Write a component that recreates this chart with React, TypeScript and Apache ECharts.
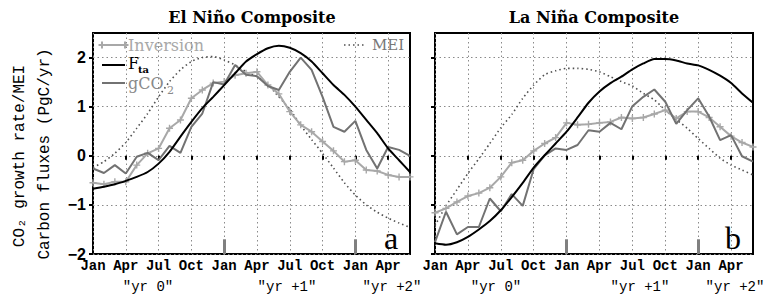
import React, { useEffect, useRef } from "react";
import * as echarts from "echarts";

// 30 monthly categories: Jan "yr 0" .. Jun "yr +2"
const categories = [
  "Jan", "Feb", "Mar", "Apr", "May", "Jun", "Jul", "Aug", "Sep", "Oct", "Nov", "Dec",
  "Jan", "Feb", "Mar", "Apr", "May", "Jun", "Jul", "Aug", "Sep", "Oct", "Nov", "Dec",
  "Jan", "Feb", "Mar", "Apr", "May", "Jun",
];
const yTicks = [-2, -1, 0, 1, 2];
const yearMarkIdx = [12, 24];
const yearLabels = ["\u2033yr 0\u2033", "\u2033yr +1\u2033", "\u2033yr +2\u2033"];

// El Niño composite
const elInversion = [-0.55, -0.58, -0.53, -0.53, -0.19, 0.05, 0.15, 0.56, 0.73, 1.17, 1.34, 1.48, 1.51, 1.64, 1.68, 1.71, 1.44, 1.26, 0.9, 0.63, 0.49, 0.29, 0.1, -0.12, -0.09, -0.29, -0.31, -0.39, -0.43, -0.43];
const elFta = [-0.67, -0.63, -0.58, -0.51, -0.43, -0.33, -0.16, 0.08, 0.39, 0.69, 0.97, 1.2, 1.44, 1.68, 1.92, 2.07, 2.19, 2.24, 2.2, 2.09, 1.92, 1.68, 1.44, 1.24, 1.0, 0.73, 0.46, 0.15, -0.09, -0.33];
const elGco2 = [-0.26, -0.35, -0.19, -0.36, -0.02, 0.06, -0.09, 0.2, 0.06, 0.59, 0.86, 1.5, 1.45, 1.85, 1.65, 1.62, 1.42, 1.34, 1.71, 2.0, 1.75, 1.2, 0.59, 0.49, 0.71, 0.12, -0.26, 0.18, 0.12, 0.0];
const elMei = [-0.24, -0.12, 0.05, 0.27, 0.56, 0.86, 1.2, 1.51, 1.75, 1.92, 2.0, 2.02, 1.95, 1.85, 1.71, 1.61, 1.45, 1.2, 0.95, 0.62, 0.33, 0.05, -0.25, -0.55, -0.8, -1.0, -1.15, -1.27, -1.37, -1.46];

// La Niña composite
const laInversion = [-1.16, -1.07, -0.94, -0.82, -0.76, -0.65, -0.43, -0.14, -0.09, 0.1, 0.25, 0.37, 0.67, 0.63, 0.64, 0.67, 0.69, 0.78, 0.76, 0.78, 0.85, 0.93, 0.76, 0.9, 0.9, 0.78, 0.59, 0.4, 0.27, 0.18];
const laFta = [-1.78, -1.81, -1.76, -1.65, -1.5, -1.33, -1.11, -0.84, -0.55, -0.24, 0.01, 0.25, 0.49, 0.78, 1.08, 1.31, 1.48, 1.61, 1.76, 1.88, 1.97, 1.97, 1.94, 1.88, 1.84, 1.75, 1.63, 1.48, 1.27, 1.08];
const laGco2 = [-1.76, -1.14, -1.6, -1.45, -1.45, -0.87, -1.13, -0.78, -1.02, -0.27, 0.01, 0.15, 0.12, 0.22, 0.52, 0.49, 0.67, 0.54, 1.01, 1.2, 1.35, 1.1, 0.65, 0.93, 1.17, 0.8, 0.32, 0.42, -0.01, -0.12];
const laMei = [-1.42, -1.02, -0.69, -0.36, -0.06, 0.25, 0.57, 0.84, 1.17, 1.44, 1.65, 1.73, 1.78, 1.78, 1.76, 1.71, 1.61, 1.51, 1.42, 1.27, 1.14, 0.93, 0.74, 0.56, 0.35, 0.15, -0.05, -0.19, -0.29, -0.39];

const C_INV = "#a8a8a8";
const C_FTA = "#000000";
const C_GCO2 = "#727272";
const C_MEI = "#505050";
const PLUS = "path://M4,0h2v4h4v2h-4v4h-2v-4h-4v-2h4z";
const MONO = "'Liberation Mono', 'DejaVu Sans Mono', monospace";
const SERIF = "'DejaVu Serif', serif";

function panelSeries(idx: number, inv: number[], fta: number[], g: number[], mei: number[]) {
  const base = { type: "line", xAxisIndex: idx, yAxisIndex: idx, animation: false };
  return [
    {
      ...base, name: "MEI" + idx, data: mei, symbol: "none", smooth: 0.2,
      lineStyle: { color: C_MEI, width: 1.6, type: [1.5, 3] }, z: 2,
    },
    {
      ...base, name: "Inversion" + idx, data: inv, symbol: PLUS, symbolSize: 7, showSymbol: true,
      itemStyle: { color: C_INV }, lineStyle: { color: C_INV, width: 2 }, z: 3,
    },
    {
      ...base, name: "gCO2" + idx, data: g, symbol: "none",
      lineStyle: { color: C_GCO2, width: 2 }, z: 4,
      markLine: {
        silent: true, symbol: ["none", "none"], label: { show: false },
        lineStyle: { color: "#808080", width: 3, type: "solid" },
        data: yearMarkIdx.map((m) => [{ coord: [m, -2] }, { coord: [m, -1.7] }]),
      },
    },
    {
      ...base, name: "Fta" + idx, data: fta, symbol: "none", smooth: 0.2,
      lineStyle: { color: C_FTA, width: 2 }, z: 5,
    },
  ];
}

function xAxis(idx: number) {
  return {
    type: "category", gridIndex: idx, data: categories, boundaryGap: false,
    axisLine: { show: false },
    axisTick: { show: true, interval: 2, length: 4, lineStyle: { color: "#000", width: 2 } },
    axisLabel: {
      interval: 2, margin: 5, color: "#000", fontFamily: MONO, fontWeight: "bold", fontSize: 14,
    },
    splitLine: { show: true, interval: 2, lineStyle: { color: "#8a8a8a", width: 1, type: [1.5, 3] } },
  };
}

function yAxis(idx: number, labels: boolean) {
  return {
    type: "value", gridIndex: idx, min: -2, max: 2.5, interval: 1,
    axisLine: { show: false },
    axisTick: { show: true, length: 4, customValues: yTicks, lineStyle: { color: "#000", width: 2 } },
    axisLabel: {
      show: labels, customValues: yTicks, margin: 7, color: "#000",
      fontFamily: "'Liberation Sans', Arial, sans-serif", fontWeight: "bold", fontSize: 16,
      formatter: (v: number) => (Number.isInteger(v) ? (v < 0 ? "\u2212" + Math.abs(v) : String(v)) : ""),
    },
    splitLine: { show: true, lineStyle: { color: "#8a8a8a", width: 1, type: [1.5, 3] } },
  };
}

function txt(x: number, y: number, text: string, font: string, color = "#000", align = "left", extra: any = {}) {
  return {
    type: "text", x, y, silent: true, ...extra,
    style: { text, font, fill: color, textAlign: align, textVerticalAlign: "middle" },
  };
}

export default function App() {
  const ref = useRef<HTMLDivElement>(null);
  useEffect(() => {
    if (!ref.current) return;
    const chart = echarts.init(ref.current, null, { renderer: "svg" });
    const legendX0 = 102, legendX1 = 125;
    const graphic: any[] = [
      txt(252, 17, "El Ni\u00f1o Composite", "bold 16px " + SERIF, "#000", "center"),
      txt(594, 17, "La Ni\u00f1a Composite", "bold 16px " + SERIF, "#000", "center"),
      txt(20, 156, "CO\u2082 growth rate/MEI", "16px " + MONO, "#000", "center", { rotation: Math.PI / 2 }),
      txt(45, 154, "Carbon fluxes (PgC/yr)", "16px " + MONO, "#000", "center", { rotation: Math.PI / 2 }),
      txt(148, 287, yearLabels[0], "14px " + MONO, "#000", "center"),
      txt(287, 287, yearLabels[1], "14px " + MONO, "#000", "center"),
      txt(392, 287, yearLabels[2], "14px " + MONO, "#000", "center"),
      txt(496, 287, yearLabels[0], "14px " + MONO, "#000", "center"),
      txt(640, 287, yearLabels[1], "14px " + MONO, "#000", "center"),
      txt(735, 287, yearLabels[2], "14px " + MONO, "#000", "center"),
      txt(391, 238, "a", "32px 'Liberation Serif', serif", "#000", "center"),
      txt(733, 238, "b", "32px 'Liberation Serif', serif", "#000", "center"),
      // legend: Inversion
      { type: "line", silent: true, shape: { x1: legendX0, y1: 45, x2: legendX1, y2: 45 }, style: { stroke: C_INV, lineWidth: 2 } },
      { type: "rect", silent: true, shape: { x: legendX0 - 3.5, y: 44, width: 7, height: 2 }, style: { fill: C_INV } },
      { type: "rect", silent: true, shape: { x: legendX0 - 1, y: 41.5, width: 2, height: 7 }, style: { fill: C_INV } },
      { type: "rect", silent: true, shape: { x: legendX1 - 3.5, y: 44, width: 7, height: 2 }, style: { fill: C_INV } },
      { type: "rect", silent: true, shape: { x: legendX1 - 1, y: 41.5, width: 2, height: 7 }, style: { fill: C_INV } },
      txt(128, 45, "Inversion", "16px " + SERIF, C_INV),
      // legend: F_ta
      { type: "line", silent: true, shape: { x1: legendX0, y1: 65, x2: legendX1, y2: 65 }, style: { stroke: C_FTA, lineWidth: 2 } },
      txt(128, 63, "F", "16px " + SERIF, C_FTA),
      txt(138, 69, "ta", "bold 10px " + SERIF, C_FTA),
      // legend: gCO2
      { type: "line", silent: true, shape: { x1: legendX0, y1: 83, x2: legendX1, y2: 83 }, style: { stroke: C_GCO2, lineWidth: 2 } },
      txt(128, 83, "gCO", "16px " + SERIF, "#8a8a8a"),
      txt(167, 90, "2", "11px " + SERIF, "#8a8a8a"),
      // legend: MEI (top right)
      { type: "line", silent: true, shape: { x1: 344, y1: 45, x2: 366, y2: 45 }, style: { stroke: C_MEI, lineWidth: 1.6, lineDash: [1.5, 3] } },
      txt(372, 45, "MEI", "15px " + SERIF, "#777"),
    ];
    chart.setOption({
      animation: false,
      backgroundColor: "#fff",
      grid: [
        { left: 93, top: 33, width: 317, height: 221, show: true, borderColor: "#000", borderWidth: 2, backgroundColor: "transparent" },
        { left: 435, top: 33, width: 318, height: 221, show: true, borderColor: "#000", borderWidth: 2, backgroundColor: "transparent" },
      ],
      xAxis: [xAxis(0), xAxis(1)],
      yAxis: [yAxis(0, true), yAxis(1, false)],
      series: [
        ...panelSeries(0, elInversion, elFta, elGco2, elMei),
        ...panelSeries(1, laInversion, laFta, laGco2, laMei),
      ],
      graphic,
    });
    return () => chart.dispose();
  }, []);
  return (
    <div
      ref={ref}
      style={{ position: "fixed", left: 0, top: 0, width: 768, height: 295, background: "#fff" }}
    />
  );
}
